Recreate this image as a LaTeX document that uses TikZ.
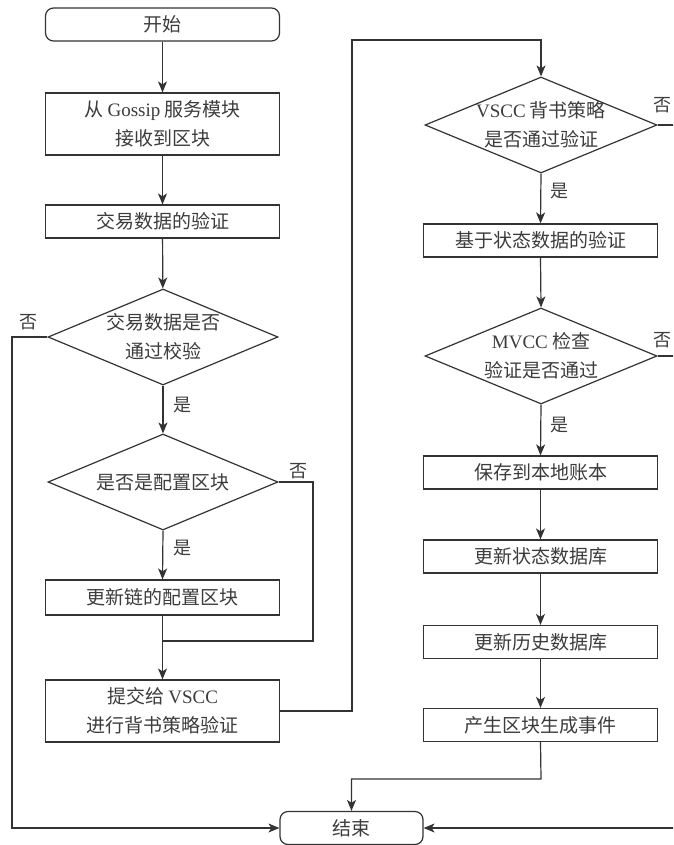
\documentclass[tikz,border=0pt]{standalone}
\usepackage{fontspec}
\setmainfont{Liberation Serif}
\newfontfamily\cjk{Noto Sans CJK SC}
\newfontfamily\latf{Liberation Serif}
\newcommand\lat[1]{{\latf #1}}
\usetikzlibrary{shapes.geometric,arrows.meta}
\definecolor{lc}{HTML}{333333}
\definecolor{tc}{HTML}{3C3C3C}
\begin{document}
\begin{tikzpicture}[x=1pt,y=-1pt,
  every node/.style={text=tc},
  txt/.style={font=\cjk\fontsize{19}{29}\selectfont, align=center, inner sep=0pt},
  box/.style={draw=lc, line width=1.2pt, minimum width=234pt, minimum height=33pt, inner sep=0pt, align=center, font=\cjk\fontsize{19}{29}\selectfont},
  term/.style={box, rounded corners=8pt},
  dia/.style={draw=lc, line width=1.2pt, diamond, inner sep=0pt, minimum width=230pt, minimum height=96pt},
  lab/.style={font=\cjk\fontsize{18}{20}\selectfont, inner sep=0pt},
  con/.style={draw=lc, line width=1.2pt},
  arr/.style={con, -{Stealth[length=11pt,width=9pt,inset=3pt]}}
]
\useasboundingbox (0,0) rectangle (673,845);
\fill[white] (0,0) rectangle (673,845);
\clip (0,0) rectangle (673,845);

% left column
\node[term] (start) at (162.5,24.5) {开始};
\node[box, minimum height=62pt] (b1) at (162.5,124) {从 \lat{Gossip} 服务模块\\接收到区块};
\node[box] (b2) at (162.5,221.5) {交易数据的验证};
\node[dia] (d1) at (163,337) {};
\node[txt] at (d1) {交易数据是否\\通过校验};
\node[dia] (d2) at (163,482) {};
\node[txt] at (d2) {是否是配置区块};
\node[box, minimum height=35pt] (b3) at (162.5,597.5) {更新链的配置区块};
\node[box, minimum height=62pt] (b4) at (162.5,711) {提交给 \lat{VSCC}\\进行背书策略验证};

% right column
\node[dia, minimum width=232pt] (d3) at (541,125) {};
\node[txt] at (d3) {\lat{VSCC} 背书策略\\是否通过验证};
\node[box] (b5) at (540.5,240.5) {基于状态数据的验证};
\node[dia, minimum width=232pt] (d4) at (541,356) {};
\node[txt] at (d4) {\lat{MVCC} 检查\\验证是否通过};
\node[box] (b6) at (540.5,472.5) {保存到本地账本};
\node[box] (b7) at (540.5,556.5) {更新状态数据库};
\node[box] (b8) at (540.5,642) {更新历史数据库};
\node[box] (b9) at (540.5,725) {产生区块生成事件};

\node[term, minimum width=143pt, minimum height=33pt] (endn) at (351.5,828) {结束};

% coordinates
\coordinate (lx) at (12,337);
\coordinate (j) at (163,641);
\coordinate (rx) at (313,482);
\coordinate (up) at (352,40);
\coordinate (m) at (541,779);
\coordinate (o3) at (690,125);
\coordinate (o4) at (690,356);
\coordinate (ob) at (690,828);

% connectors
\draw[arr] (start) -- (b1);
\draw[arr] (b1) -- (b2);
\draw[arr] (b2) -- (d1);
\draw[arr] (d1.south) -- (d2.north);
\draw[arr] (d1.west) -- (lx) |- (endn.west);
\draw[arr] (d2.south) -- (b3.north);
\draw[con] (d2.east) -- (rx) |- (j);
\draw[arr] (b3.south) -- (b4.north);
\draw[arr] (b4.east) -| (up) -| (d3.north);
\draw[con] (d3.east) -- (o3);
\draw[arr] (d3.south) -- (b5.north);
\draw[arr] (b5.south) -- (d4.north);
\draw[con] (d4.east) -- (o4);
\draw[arr] (d4.south) -- (b6.north);
\draw[arr] (b6) -- (b7);
\draw[arr] (b7) -- (b8);
\draw[arr] (b8) -- (b9);
\draw[arr] (b9.south) -- (m) -| (endn.north);
\draw[arr] (ob) -- (endn.east);

% labels
\node[lab] at (28,322) {否};
\node[lab] at (182,405) {是};
\node[lab] at (298,471) {否};
\node[lab] at (182,548) {是};
\node[lab] at (662,105) {否};
\node[lab] at (559,191) {是};
\node[lab] at (662,340) {否};
\node[lab] at (559,425) {是};
\end{tikzpicture}
\end{document}
